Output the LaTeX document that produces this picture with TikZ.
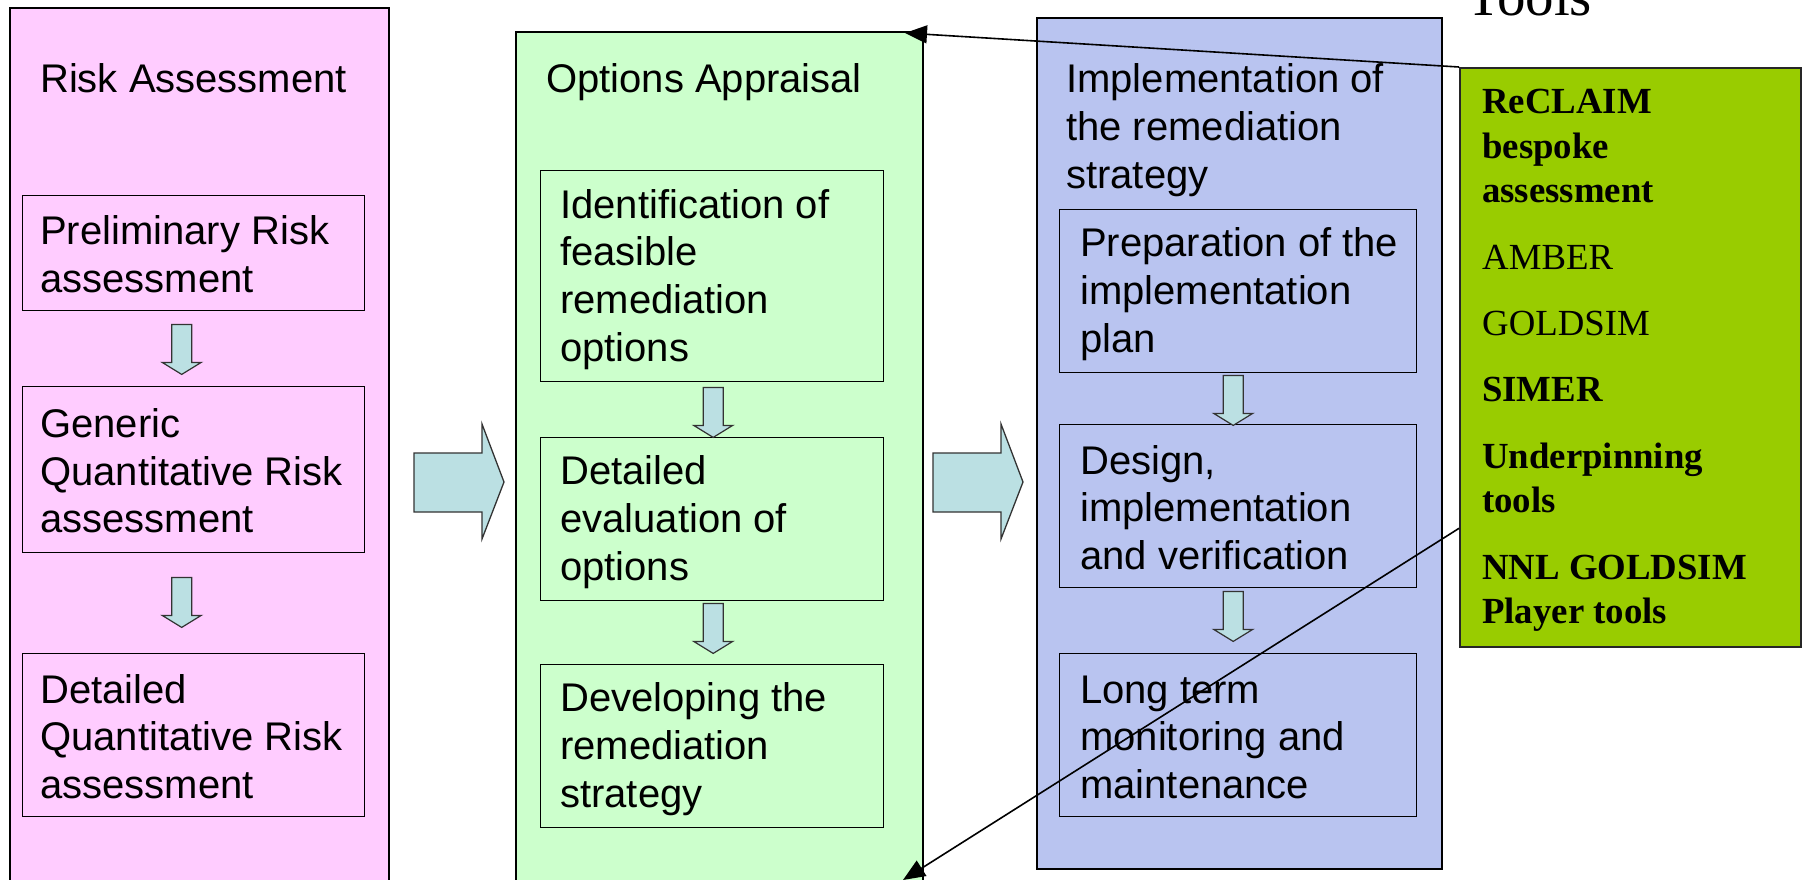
\documentclass[tikz,border=0pt]{standalone}
\usepackage{fontspec}
\newfontfamily\arialf{Liberation Sans}
\newfontfamily\timesf{Liberation Serif}
\usetikzlibrary{calc,arrows.meta}
\definecolor{pinkc}{RGB}{255,204,255}
\definecolor{greenc}{RGB}{204,255,204}
\definecolor{bluec}{RGB}{185,196,240}
\definecolor{arrc}{RGB}{187,224,227}
\definecolor{toolc}{RGB}{153,204,0}
\newcommand{\ts}{\rule{0pt}{35pt}}
\newcommand{\bs}{\rule[-4pt]{0pt}{4pt}}
\newcommand{\tts}{\rule{0pt}{30pt}}
% small down arrow: #1 upper node, #2 x shift, #3 gap below node
\newcommand{\smallarr}[3]{%
  \path ($(#1.south)+(#2,#3)$) coordinate (sa-#1);
  \draw[smallarrow] (sa-#1) ++(-10,0) -- ++(20,0) -- ++(0,38) -- ++(9.5,0)
    -- ++(-19.5,12) -- ++(-19.5,-12) -- ++(9.5,0) -- cycle;}
\begin{document}
\begin{tikzpicture}[x=1pt,y=-1pt,
  outerbox/.style={draw=black,line width=2pt,anchor=north west,inner sep=0pt},
  subbox/.style={draw=black,line width=1.4pt,anchor=north west,inner sep=0pt,minimum width=#1},
  boxtext/.style={anchor=west,align=left,inner sep=0pt,font=\arialf\fontsize{40}{47.7}\selectfont},
  headtext/.style={anchor=base west,align=left,inner sep=0pt,font=\arialf\fontsize{40}{48}\selectfont},
  smallarrow/.style={fill=arrc,draw=black!80,line width=1.2pt,line join=miter},
  bigarrow/.style={fill=arrc,draw=black!80,line width=1.3pt,line join=miter},
  link/.style={draw=black,line width=1.6pt,-{Triangle[length=22pt,width=18pt]}}]
\useasboundingbox (0,0) rectangle (1802,879);
\clip (0,0) rectangle (1802,879);

% outer stage boxes
\node[outerbox,fill=pinkc,minimum width=379pt,minimum height=900pt] (pink) at (9,7) {};
\node[outerbox,fill=greenc,minimum width=407pt,minimum height=900pt] (green) at (515,31) {};
\node[outerbox,fill=bluec,minimum width=405pt,minimum height=851pt] (blue) at (1036,17) {};
\node[outerbox,fill=toolc,draw=black!85,minimum width=341pt,minimum height=579pt] (tools) at (1459,67) {};

% headers
\node[headtext] (hpink) at (40,92) {Risk Assessment};
\node[headtext] (hgreen) at (546,92) {Options Appraisal};
\node[anchor=north west,align=left,inner sep=0pt,font=\arialf\fontsize{40}{48}\selectfont] (hblue) at (1066,57)
  {\ts Implementation of\\the remediation\\strategy};
\node[anchor=base west,inner sep=0pt,font=\timesf\fontsize{57}{60}\selectfont] (htools) at (1466,15) {Tools};

% pink sub boxes
\node[subbox=342pt,fill=pinkc,minimum height=115pt] (p1) at (22,195) {};
\node[subbox=342pt,fill=pinkc,minimum height=166pt] (p2) at (22,386) {};
\node[subbox=342pt,fill=pinkc,minimum height=163pt] (p3) at (22,653) {};
\node[boxtext] (tp1) at ([xshift=18pt]p1.west) {\ts Preliminary Risk\\assessment\bs};
\node[boxtext] (tp2) at ([xshift=18pt]p2.west) {\ts Generic\\Quantitative Risk\\assessment\bs};
\node[boxtext] (tp3) at ([xshift=18pt]p3.west) {\ts Detailed\\Quantitative Risk\\assessment\bs};

% green sub boxes
\node[subbox=343pt,fill=greenc,minimum height=211pt] (g1) at (540,170) {};
\node[subbox=343pt,fill=greenc,minimum height=163pt] (g2) at (540,437) {};
\node[subbox=343pt,fill=greenc,minimum height=163pt] (g3) at (540,664) {};
\node[boxtext] (tg1) at ([xshift=20pt]g1.west) {\ts Identification of\\feasible\\remediation\\options\bs};
\node[boxtext] (tg2) at ([xshift=20pt]g2.west) {\ts Detailed\\evaluation of\\options\bs};
\node[boxtext] (tg3) at ([xshift=20pt]g3.west) {\ts Developing the\\remediation\\strategy\bs};

% blue sub boxes
\node[subbox=357pt,fill=bluec,minimum height=163pt] (b1) at (1059,209) {};
\node[subbox=357pt,fill=bluec,minimum height=163pt] (b2) at (1059,424) {};
\node[subbox=357pt,fill=bluec,minimum height=163pt] (b3) at (1059,653) {};
\node[boxtext] (tb1) at ([xshift=21pt]b1.west) {\ts Preparation of the\\implementation\\plan\bs};
\node[boxtext] (tb2) at ([xshift=21pt]b2.west) {\ts Design,\\implementation\\and verification\bs};
\node[boxtext] (tb3) at ([xshift=21pt]b3.west) {\ts Long term\\monitoring and\\maintenance\bs};

% small down arrows
\smallarr{p1}{-12}{13}
\smallarr{p2}{-12}{24}
\smallarr{g1}{1}{5}
\smallarr{g2}{1}{2}
\smallarr{b1}{-5}{2}
\smallarr{b2}{-5}{3}

% big block arrows between stages
\draw[bigarrow] (414,453) -- (482,453) -- (482,424) -- (504,482) -- (482,539) -- (482,512) -- (414,512) -- cycle;
\draw[bigarrow] (933,453) -- (1001,453) -- (1001,424) -- (1023,482) -- (1001,539) -- (1001,512) -- (933,512) -- cycle;

% tools list
\node[anchor=north west,align=left,inner sep=0pt,font=\timesf\fontsize{36.8}{44.8}\selectfont] (toolstext) at (1482,83)
  {\tts\textbf{ReCLAIM}\\\textbf{bespoke}\\\textbf{assessment}\\[21.5pt]
   AMBER\\[21.5pt]
   GOLDSIM\\[21.5pt]
   \textbf{SIMER}\\[21.5pt]
   \textbf{Underpinning}\\\textbf{tools}\\[21.5pt]
   \textbf{NNL GOLDSIM}\\\textbf{Player tools}};

% connectors from the tools box
\coordinate (c1) at (905,33);
\coordinate (c2) at (903,880);
\coordinate (s2) at ($(tools.north west)!0.794!(tools.south west)$);
\draw[link] (tools.north west) -- (c1);
\draw[link] (s2) -- (c2);
\end{tikzpicture}
\end{document}
